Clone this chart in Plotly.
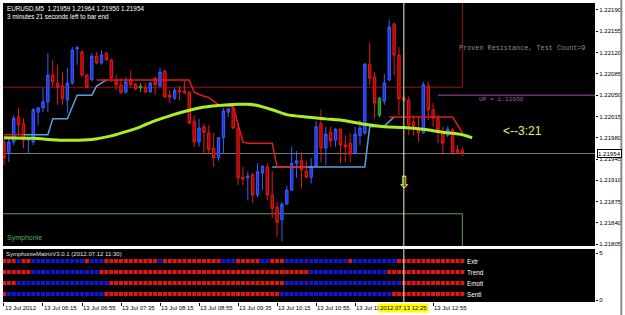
import plotly.graph_objects as go
import pandas as pd

# ---------------- data ----------------
SYMBOL = "EURUSD,M5"
START = "2012-07-13 05:35"
N_BARS = 95
bar_times = pd.date_range(START, periods=130, freq="5min")
times = [t.strftime("%Y-%m-%d %H:%M") for t in bar_times[:N_BARS]]
ext_times = [t.strftime("%Y-%m-%d %H:%M") for t in bar_times]

opens = [1.21973, 1.21956, 1.21973, 1.22014, 1.22003, 1.21976, 1.21973, 1.22022, 1.22029, 1.22039,
         1.22083, 1.22070, 1.22065, 1.22042, 1.22070, 1.22126, 1.22121, 1.22083, 1.22075, 1.22114,
         1.22103, 1.22119, 1.22108, 1.22075, 1.22067, 1.22055, 1.22075, 1.22068, 1.22062, 1.22062,
         1.22055, 1.22078, 1.22065, 1.22090, 1.22050, 1.22045, 1.22058, 1.22057, 1.22055, 1.22007,
         1.21973, 1.21998, 1.21988, 1.21963, 1.21947, 1.21980, 1.22022, 1.22029, 1.21996, 1.21915,
         1.21914, 1.21919, 1.21886, 1.21922, 1.21932, 1.21886, 1.21866, 1.21845, 1.21871, 1.21894,
         1.21938, 1.21942, 1.21925, 1.21915, 1.21933, 1.22003, 1.21963, 1.21989, 1.21976, 1.21994,
         1.21968, 1.21971, 1.21955, 1.21983, 1.21988, 1.22101, 1.22080, 1.22045, 1.22040, 1.22075,
         1.22167, 1.22116, 1.22045, 1.22042, 1.22006, 1.21993, 1.21988, 1.22065, 1.22026, 1.22012,
         1.21988, 1.21984, 1.21993, 1.21960, 1.21959]
highs = [1.21980, 1.21980, 1.22017, 1.22029, 1.22012, 1.21981, 1.22029, 1.22031, 1.22062, 1.22119,
         1.22108, 1.22100, 1.22088, 1.22095, 1.22129, 1.22131, 1.22124, 1.22085, 1.22119, 1.22121,
         1.22124, 1.22121, 1.22109, 1.22083, 1.22078, 1.22080, 1.22090, 1.22070, 1.22070, 1.22070,
         1.22072, 1.22080, 1.22095, 1.22091, 1.22058, 1.22062, 1.22065, 1.22075, 1.22057, 1.22017,
         1.22011, 1.22004, 1.22001, 1.21988, 1.21981, 1.22029, 1.22029, 1.22031, 1.22004, 1.21932,
         1.21924, 1.21922, 1.21938, 1.21935, 1.21938, 1.21925, 1.21874, 1.21874, 1.21901, 1.21965,
         1.21958, 1.21956, 1.21942, 1.21947, 1.22007, 1.22026, 1.21998, 1.21998, 1.21996, 1.21996,
         1.21984, 1.21988, 1.21998, 1.22009, 1.22103, 1.22136, 1.22088, 1.22047, 1.22085, 1.22174,
         1.22169, 1.22129, 1.22050, 1.22048, 1.22017, 1.22014, 1.22072, 1.22072, 1.22037, 1.22017,
         1.21998, 1.21999, 1.21996, 1.21968, 1.21964]
lows = [1.21935, 1.21940, 1.21968, 1.21984, 1.21963, 1.21955, 1.21968, 1.22001, 1.22022, 1.22022,
        1.22063, 1.22034, 1.22034, 1.22021, 1.22067, 1.22100, 1.22080, 1.22062, 1.22073, 1.22101,
        1.22100, 1.22106, 1.22072, 1.22058, 1.22052, 1.22052, 1.22063, 1.22058, 1.22055, 1.22054,
        1.22054, 1.22050, 1.22063, 1.22045, 1.22037, 1.22042, 1.22042, 1.22052, 1.22003, 1.21965,
        1.21965, 1.21955, 1.21955, 1.21932, 1.21942, 1.21955, 1.22014, 1.21994, 1.21902, 1.21902,
        1.21877, 1.21873, 1.21882, 1.21894, 1.21877, 1.21848, 1.21817, 1.21810, 1.21869, 1.21892,
        1.21914, 1.21897, 1.21914, 1.21905, 1.21932, 1.21940, 1.21935, 1.21965, 1.21965, 1.21938,
        1.21940, 1.21940, 1.21952, 1.21968, 1.21984, 1.22067, 1.22012, 1.22014, 1.22034, 1.22073,
        1.22083, 1.22017, 1.22039, 1.21984, 1.21984, 1.21973, 1.21986, 1.22009, 1.21998, 1.21971,
        1.21955, 1.21981, 1.21952, 1.21953, 1.21950]
closes = [1.21947, 1.21973, 1.22012, 1.22001, 1.21976, 1.21980, 1.22026, 1.22029, 1.22039, 1.22083,
          1.22072, 1.22063, 1.22045, 1.22070, 1.22124, 1.22128, 1.22083, 1.22063, 1.22114, 1.22103,
          1.22116, 1.22108, 1.22078, 1.22067, 1.22054, 1.22072, 1.22067, 1.22060, 1.22065, 1.22055,
          1.22070, 1.22067, 1.22088, 1.22047, 1.22047, 1.22058, 1.22055, 1.22054, 1.22004, 1.21973,
          1.21996, 1.21989, 1.21960, 1.21947, 1.21980, 1.22024, 1.22027, 1.21996, 1.21914, 1.21912,
          1.21917, 1.21886, 1.21924, 1.21933, 1.21886, 1.21864, 1.21841, 1.21871, 1.21894, 1.21938,
          1.21942, 1.21927, 1.21915, 1.21933, 1.21998, 1.21963, 1.21986, 1.21975, 1.21994, 1.21968,
          1.21965, 1.21953, 1.21986, 1.21996, 1.22101, 1.22078, 1.22037, 1.22017, 1.22070, 1.22162,
          1.22116, 1.22044, 1.22042, 1.22001, 1.21999, 1.21988, 1.22067, 1.22026, 1.22012, 1.21993,
          1.21971, 1.21994, 1.21956, 1.21956, 1.21954]
green_bars = [28, 77]

ma_bars = [0, 6, 12, 18, 22, 25, 28, 31, 34, 37, 40, 44, 48, 50, 52, 55, 58, 62, 66, 70, 74, 78, 82, 86, 90, 94, 96]
ma_vals = [1.21980, 1.21979, 1.21976, 1.21977, 1.21983, 1.21990, 1.21998, 1.22008, 1.22016, 1.22023,
           1.22029, 1.22033, 1.22035, 1.22035, 1.22033, 1.22026, 1.22018, 1.22014, 1.22011, 1.22008,
           1.22002, 1.21998, 1.21997, 1.21994, 1.21989, 1.21985, 1.21980]

red_trail = [
    [(0, 1.21985), (4, 1.21985)],
    [(19, 1.22075), (38, 1.22075), (39, 1.22055), (40, 1.22051), (42, 1.22046), (44, 1.22034),
     (47, 1.22031), (49, 1.21973), (50, 1.21971), (55, 1.21971), (56, 1.21932), (62, 1.21932)],
    [(79, 1.22014), (92, 1.22014), (94, 1.21988)],
]
blue_trail = [
    [(4, 1.21985), (9, 1.21985), (10, 1.22011), (13, 1.22011), (15, 1.22050), (18, 1.22050),
     (19, 1.22065), (21, 1.22075)],
    [(55, 1.21932), (74, 1.21932), (75, 1.21998), (78, 1.21999), (80, 1.22014)],
]

resistance_low = 1.22063
resistance_end_bar = 94
resistance_tests = 9
symphonie_top = 1.21855
up_level = 1.22050
up_start_bar = 89
cursor_bar = 82
bid = closes[-1]
timer_min, timer_sec = 3, 21

price_ticks = [1.21805, 1.21840, 1.21875, 1.21910, 1.21945, 1.21980, 1.22015, 1.22050,
               1.22085, 1.22120, 1.22155, 1.22190]
time_labels = [("05:35", "13 Jul 2012"), ("06:15", "13 Jul 06:15"), ("06:55", "13 Jul 06:55"),
               ("07:35", "13 Jul 07:35"), ("08:15", "13 Jul 08:15"), ("08:55", "13 Jul 08:55"),
               ("09:35", "13 Jul 09:35"), ("10:15", "13 Jul 10:15"), ("10:55", "13 Jul 10:55"),
               ("11:35", "13 Jul 11:35"), ("12:55", "13 Jul 12:55")]

matrix_names = ["Extr", "Trend", "Emoti", "Senti"]
matrix_rows = [
    "RRR B RR BBBBBBBBBB B R BBB RRRRRRRRRR R B RRRRRRRRRR RR BBB RRRRR BB RRR BBBBBBBBBB BBB R BBBBBBBBB RRRRRRRRRR RRRR",
    "RRRRRR BBBBBBBBBB BBBB RRRRRRRRRR RRRRRRRRRR RRRRRRRRRR RRRRRRRRRR RRR BBBBBBBBBB BBBBBB RRRRRRRRRR RRRRRR",
    "RRR BBBBBBBBBB BBBBBBBBB RRRRRRRRRR RRRRRRRRRR RRRRRRRRRR RRRRRR BBBBBBBBBB BBBBBBBBBB BBBB RRRRRRRRRR RRR",
    "R BBBBBBBBBB BBBBBBBBBB RRRRRRRRRR RRRRRRRRRR RRRRRRRRRR RRRRRR BBBBBBBBBB BBBBBBBBBB BBB RRRRRRRRRR RRRRR",
]
matrix_rows = [r.replace(" ", "") for r in matrix_rows]
matrix_levels = [4.15, 2.98, 1.81, 0.64]

# ---------------- figure ----------------
fig = go.Figure()

def keep(arr, ids):
    return [v if i in ids else None for i, v in enumerate(arr)]

normal_ids = set(range(N_BARS)) - set(green_bars)
fig.add_trace(go.Candlestick(
    x=times, open=keep(opens, normal_ids), high=keep(highs, normal_ids),
    low=keep(lows, normal_ids), close=keep(closes, normal_ids),
    increasing=dict(line=dict(color="#3d5cff", width=1), fillcolor="#1c36e6"),
    decreasing=dict(line=dict(color="#e41a1a", width=1), fillcolor="#a80000"),
    xaxis="x", yaxis="y", showlegend=False, hoverinfo="skip"))
gids = set(green_bars)
fig.add_trace(go.Candlestick(
    x=times, open=keep(opens, gids), high=keep(highs, gids),
    low=keep(lows, gids), close=keep(closes, gids),
    increasing=dict(line=dict(color="#2fae2f", width=1), fillcolor="#1f8f1f"),
    decreasing=dict(line=dict(color="#2fae2f", width=1), fillcolor="#1f8f1f"),
    xaxis="x", yaxis="y", showlegend=False, hoverinfo="skip"))

def seg_xy(segs):
    xs, ys = [], []
    for s in segs:
        for b, v in s:
            xs.append(ext_times[b]); ys.append(v)
        xs.append(None); ys.append(None)
    return xs, ys

bx, by = seg_xy(blue_trail)
fig.add_trace(go.Scatter(x=bx, y=by, mode="lines", line=dict(color="#5b9fe0", width=1.5),
                         xaxis="x", yaxis="y", showlegend=False, hoverinfo="skip"))
rx, ry = seg_xy(red_trail)
fig.add_trace(go.Scatter(x=rx, y=ry, mode="lines", line=dict(color="#e01c1c", width=1.5),
                         xaxis="x", yaxis="y", showlegend=False, hoverinfo="skip"))
fig.add_trace(go.Scatter(x=[ext_times[b] for b in ma_bars], y=ma_vals, mode="lines",
                         line=dict(color="#aaee2a", width=3, shape="spline", smoothing=0.6),
                         xaxis="x", yaxis="y", showlegend=False, hoverinfo="skip"))

# matrix panel
for name, row, lvl in zip(matrix_names, matrix_rows, matrix_levels):
    cols = ["#e81414" if c == "R" else "#1414d8" for c in row[:N_BARS]]
    fig.add_trace(go.Scatter(x=times[:len(cols)], y=[lvl] * len(cols), mode="markers",
                             marker=dict(symbol="square", size=4, color=cols, line=dict(width=0)),
                             xaxis="x2", yaxis="y2", showlegend=False, hoverinfo="skip"))

t0 = bar_times[0]
x_range = [(t0 - pd.Timedelta(minutes=1)).strftime("%Y-%m-%d %H:%M:%S"),
           (t0 + pd.Timedelta(minutes=606)).strftime("%Y-%m-%d %H:%M:%S")]
x_far_left = (t0 - pd.Timedelta(minutes=20)).strftime("%Y-%m-%d %H:%M")

shapes = [
    dict(type="rect", xref="x", yref="y", x0=x_far_left, x1=times[resistance_end_bar],
         y0=resistance_low, y1=1.2240, line=dict(color="#9c1212", width=1), layer="below"),
    dict(type="rect", xref="x", yref="y", x0=x_far_left, x1=times[resistance_end_bar],
         y0=1.2160, y1=symphonie_top, line=dict(color="#5f9a55", width=1), layer="below"),
    dict(type="line", xref="paper", yref="y", x0=0, x1=1, y0=bid, y1=bid,
         line=dict(color="#7c7c7c", width=1), layer="below"),
    dict(type="line", xref="x", yref="y", x0=times[up_start_bar], x1=ext_times[-1], y0=up_level, y1=up_level,
         line=dict(color="#b24ab2", width=1), layer="below"),
    dict(type="line", xref="x", yref="paper", x0=times[cursor_bar], x1=times[cursor_bar], y0=0, y1=1,
         line=dict(color="#f4f0c4", width=1), layer="above"),
    dict(type="line", xref="paper", yref="paper", x0=1.0445, x1=1.0445, y0=-0.05, y1=1.02,
         line=dict(color="#8a8a8a", width=2)),
]

ann = []
def txt(text, x, y, xref="paper", yref="paper", size=6, color="#ffffff", family="Liberation Sans",
        xanchor="left", yanchor="middle", **kw):
    d = dict(text=text, x=x, y=y, xref=xref, yref=yref, showarrow=False, xanchor=xanchor,
             yanchor=yanchor, font=dict(size=size, color=color, family=family))
    d.update(kw)
    ann.append(d)

o, h, l, c = opens[-1], highs[-1], lows[-1], closes[-1]
txt(f"{SYMBOL}  {o:.5f} {h:.5f} {l:.5f} {c:.5f}", 0.003, 0.980, size=6.3)
txt(f"{timer_min} minutes {timer_sec} seconds left to bar end", 0.003, 0.956, size=6.3)
txt(f"Proven Resistance, Test Count={resistance_tests}", 0.767, 1.22128, yref="y", size=6.8,
    color="#8c8c8c", family="Liberation Mono")
txt(f"UP = {up_level:.5f}", ext_times[97], up_level, xref="x", yref="y",
    size=6.2, color="#b24ab2", family="Liberation Mono", yanchor="top", yshift=1)
txt(f"<--{timer_min}:{timer_sec}", 0.841, 1.21991, yref="y", size=12, color="#eeee74")
txt("⇩", times[cursor_bar], 1.21907, xref="x", yref="y", size=17, color="#f4f030",
    family="DejaVu Sans", xanchor="center")
txt("Symphonie", 0.004, 0.214, size=7, color="#5fae5f")
txt("SymphonieMatrixV3.0.1 (2012.07.12 11:30)", 0.002, 0.161, size=6, color="#e0e0e0")
for name, lvl in zip(matrix_names, matrix_levels):
    txt(name, times[-1], lvl, xref="x", yref="y2", size=6.3, color="#ffffff", xshift=3)
for tm, lab in time_labels:
    txt(lab, f"2012-07-13 {tm}", -0.021, xref="x", size=6, color="#000000", xshift=-1)
txt(times[cursor_bar].replace("-", "."), times[cursor_bar], -0.021, xref="x", size=6, color="#000000",
    xanchor="center", bgcolor="#ffff00", borderpad=1)
txt(f"{bid:.5f}", 1.003, bid, yref="y", size=6.1, color="#000000", bgcolor="#ffffff",
    bordercolor="#000000", borderwidth=1, borderpad=0)

fig.update_layout(
    width=625, height=315, margin=dict(l=3, r=27, t=3, b=13),
    paper_bgcolor="#ffffff", plot_bgcolor="#000000",
    font=dict(family="Liberation Sans", size=6.5, color="#000000"),
    showlegend=False, shapes=shapes, annotations=ann,
    xaxis=dict(domain=[0, 1], anchor="y", range=x_range, showticklabels=False, ticks="",
               showgrid=False, zeroline=False, rangeslider=dict(visible=False), showline=False),
    xaxis2=dict(domain=[0, 1], anchor="y2", matches="x", range=x_range, showgrid=False, zeroline=False,
                tickvals=[f"2012-07-13 {tm}" for tm, _ in time_labels], ticks="outside", ticklen=3,
                tickcolor="#000000", showticklabels=False, showline=False),
    yaxis=dict(domain=[0.1873, 1], anchor="x", side="right", range=[1.21802, 1.222015],
               tickvals=price_ticks, ticktext=[f"{v:.5f}" for v in price_ticks], ticks="outside",
               ticklen=2, tickcolor="#000000", tickfont=dict(size=6.1, color="#000000"),
               showgrid=False, zeroline=False, showline=False),
    yaxis2=dict(domain=[0, 0.1773], anchor="x2", side="right", range=[-0.21, 5.43],
                tickvals=[0, 5], ticktext=["0", "5"], ticks="outside", ticklen=2, tickcolor="#000000",
                tickfont=dict(size=6.1, color="#000000"), showgrid=False, zeroline=False, showline=False),
)

fig.write_html("out.html")
